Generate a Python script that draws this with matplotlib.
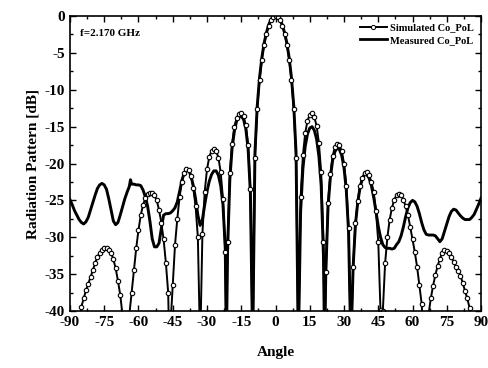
import matplotlib
matplotlib.use('Agg')
import matplotlib.pyplot as plt
from matplotlib.ticker import MultipleLocator

# simulated co-pol (angle in deg, level in dB)
sim_angle = [-90, -89, -88, -87, -86, -85, -84, -83, -82, -81, -80, -79, -78, -77, -76, -75,
             -74, -73, -72, -71, -70, -69, -68, -67, -66, -65, -64, -63, -62, -61, -60, -59,
             -58, -57, -56, -55, -54, -53, -52, -51, -50, -49, -48, -47, -46.5, -46, -45, -44,
             -43, -42, -41, -40, -39, -38, -37, -36, -35, -34, -33, -32, -31, -30, -29, -28,
             -27, -26, -25, -24, -23, -22, -21.5, -21, -20, -19, -18, -17, -16, -15, -14, -13,
             -12, -11, -10, -9, -8, -7, -6, -5, -4, -3, -2, -1, 0, 1, 2, 3, 4, 5, 6, 7, 8, 9,
             10, 11, 12, 13, 14, 15, 16, 17, 18, 19, 20, 21, 21.5, 22, 23, 24, 25, 26, 27, 28,
             29, 30, 31, 32, 33, 34, 35, 36, 37, 38, 39, 40, 41, 42, 43, 44, 45, 46, 46.5, 47,
             48, 49, 50, 51, 52, 53, 54, 55, 56, 57, 58, 59, 60, 61, 62, 63, 64, 65, 66, 67,
             68, 69, 70, 71, 72, 73, 74, 75, 76, 77, 78, 79, 80, 81, 82, 83, 84, 85, 86, 87,
             88, 89, 90]
sim_db = [-50, -50, -48, -46, -43, -39.4, -38.3, -37.2, -36.3, -35.4, -34.5, -33.5, -32.7, -32.1, -31.7, -31.5,
          -31.5, -31.7, -32.1, -33.0, -34.2, -35.9, -37.8, -40.5, -46, -46, -40.5, -37.5, -34.5, -31.5, -29.0, -27.0,
          -25.6, -24.7, -24.2, -24.0, -24.0, -24.3, -25.0, -26.3, -28.0, -30.3, -33.5, -37.5, -45, -42, -36.5, -31.0,
          -27.5, -24.5, -22.5, -21.3, -20.8, -20.9, -21.7, -23.3, -25.8, -30.0, -45, -29.5, -23.8, -20.8, -19.1, -18.3,
          -18.1, -18.3, -19.2, -21.2, -24.8, -32.0, -45, -30.6, -21.3, -17.3, -15.0, -13.8, -13.3, -13.2, -13.6, -14.8,
          -17.5, -23.5, -45, -19.2, -12.6, -8.7, -5.9, -3.9, -2.4, -1.3, -0.6, -0.15, 0, -0.15, -0.6, -1.3, -2.4, -3.9, -5.9, -8.7, -12.6, -19.2,
          -45, -24.6, -18.9, -15.9, -14.2, -13.4, -13.2, -13.7, -14.9, -17.2, -21.2, -30.6, -45, -34.7, -25.3, -21.4, -19.0, -17.8, -17.3, -17.5,
          -18.3, -20.0, -23.0, -28.7, -45, -34.0, -28.1, -25.1, -23.1, -21.9, -21.3, -21.2, -21.6, -22.5, -23.9, -26.5, -30.6, -39.9, -45, -40.0,
          -33.5, -30.0, -27.6, -26.0, -24.9, -24.3, -24.1, -24.3, -24.9, -25.8, -27.0, -28.6, -30.3, -32.0, -34.0, -36.5, -39.0, -45, -45, -40.5,
          -38.3, -36.6, -35.1, -33.9, -32.9, -32.1, -31.7, -31.8, -32.2, -32.7, -33.3, -34.0, -34.6, -35.2, -36.2, -37.3, -38.3, -39.6, -45, -48,
          -50, -50, -50]

# measured co-pol
meas_angle = [-90, -89, -88, -87, -86, -85, -84, -83, -82, -81, -80, -79, -78, -77, -76, -75,
              -74, -73, -72, -71, -70, -69, -68, -67, -66, -65, -64, -63.5, -63, -62, -61, -60,
              -59, -58, -57, -56, -55, -54, -53, -52, -51, -50, -49, -48, -47, -46, -45, -44,
              -43, -42, -41, -40, -39, -38, -37, -36, -35, -34, -33, -32, -31, -30, -29, -28,
              -27, -26, -25, -24, -23, -22, -21.5, -21, -20, -19, -18, -17, -16, -15, -14, -13,
              -12, -11, -10, -9, -8, -7, -6, -5, -4, -3, -2, -1, 0, 1, 2, 3, 4, 5, 6, 7, 8, 9,
              10, 11, 12, 13, 14, 15, 16, 17, 18, 19, 20, 21, 21.5, 22, 23, 24, 25, 26, 27, 28,
              29, 30, 31, 32, 33, 34, 35, 36, 37, 38, 39, 40, 41, 42, 43, 44, 45, 46, 47, 48,
              49, 50, 51, 52, 53, 54, 55, 56, 57, 58, 59, 60, 61, 62, 63, 64, 65, 66, 67, 68,
              69, 70, 71, 72, 73, 74, 75, 76, 77, 78, 79, 80, 81, 82, 83, 84, 85, 86, 87, 88,
              89, 90]
meas_db = [-24.9, -25.6, -26.4, -27.0, -27.6, -28.0, -28.2, -27.9, -27.3, -26.3, -25.3, -24.3, -23.4, -22.9, -22.7, -22.9,
           -23.5, -24.8, -26.3, -27.8, -28.3, -28.0, -27.0, -25.9, -24.8, -23.9, -23.1, -22.2, -22.8, -22.8, -22.9, -22.9,
           -23.0, -23.6, -24.5, -25.8, -27.8, -30.2, -31.3, -31.3, -30.8, -28.8, -27.0, -26.8, -26.8, -26.7, -26.4, -26.0,
           -25.2, -23.8, -22.3, -21.3, -20.8, -20.9, -21.7, -23.0, -24.8, -27.0, -28.4, -27.6, -25.6, -23.8, -22.4, -21.5,
           -21.0, -21.0, -21.6, -23.0, -25.6, -31.5, -45, -32.0, -22.2, -17.9, -15.6, -14.2, -13.7, -13.6, -14.0, -15.3,
           -18.0, -24.0, -45, -18.5, -12.2, -8.4, -5.7, -3.7, -2.3, -1.2, -0.5, -0.1, 0, -0.1, -0.5, -1.2, -2.3, -3.7, -5.7, -8.4, -12.2, -18.5,
           -45, -26.5, -20.7, -17.7, -16.0, -15.2, -15.0, -15.5, -16.7, -19.0, -23.0, -32.5, -45, -35.3, -25.9, -22.0, -19.6, -18.4, -17.9, -18.1,
           -18.9, -20.6, -23.6, -29.3, -45, -34.0, -28.3, -25.3, -23.3, -22.1, -21.5, -21.5, -22.0, -23.0, -24.6, -26.5, -28.5, -30.0, -31.0, -31.4,
           -31.5, -31.5, -31.6, -31.5, -31.0, -30.6, -29.8, -28.6, -27.2, -26.0, -25.3, -25.0, -25.2, -25.8, -26.8, -28.0, -29.0, -29.6, -29.7, -29.7,
           -29.7, -29.8, -30.2, -30.6, -30.2, -29.2, -28.2, -27.2, -26.5, -26.2, -26.3, -26.7, -27.1, -27.4, -27.6, -27.6, -27.6, -27.3, -26.9, -26.2,
           -25.5, -24.7]

x_ticks = [-90, -75, -60, -45, -30, -15, 0, 15, 30, 45, 60, 75, 90]
y_ticks = [0, -5, -10, -15, -20, -25, -30, -35, -40]

plt.rcParams['font.family'] = ['Liberation Serif', 'DejaVu Serif']
plt.rcParams['font.weight'] = 'bold'
plt.rcParams['axes.unicode_minus'] = False

fig = plt.figure(figsize=(4.88, 3.68), dpi=100)
ax = fig.add_axes([0.1434, 0.1549, 0.8423, 0.8016])

ax.plot(meas_angle, meas_db, color='black', lw=2.1, solid_joinstyle='round')
ax.plot(sim_angle, sim_db, color='black', lw=1.4, marker='o', markersize=3.2,
        markerfacecolor='white', markeredgecolor='black', markeredgewidth=0.8)

ax.set_xlim(-90, 90)
ax.set_ylim(-40, 0)
ax.set_xticks(x_ticks)
ax.set_yticks(y_ticks)
ax.xaxis.set_minor_locator(MultipleLocator(7.5))
ax.yaxis.set_minor_locator(MultipleLocator(2.5))
ax.tick_params(which='both', direction='in', top=True, right=True, width=1.0)
ax.tick_params(which='major', length=4, labelsize=11)
ax.tick_params(which='minor', length=2)
for s in ax.spines.values():
    s.set_linewidth(1.2)

ax.set_xlabel('Angle', fontsize=11, fontweight='bold', labelpad=12)
ax.set_ylabel('Radiation Pattern [dB]', fontsize=11, fontweight='bold', labelpad=4)

ax.text(0.025, 0.94, 'f=2.170 GHz', transform=ax.transAxes, fontsize=8,
        fontweight='bold', va='center', ha='left')

h_sim, = ax.plot([], [], color='black', lw=1.4, marker='o', markersize=3,
                 markerfacecolor='white', markeredgewidth=0.7)
h_meas, = ax.plot([], [], color='black', lw=2.0)
ax.legend([h_sim, h_meas], ['Simulated Co_PoL', 'Measured Co_PoL'], loc='upper right',
          frameon=False, fontsize=7.5, handlelength=2.6, handletextpad=0.3,
          borderaxespad=0.3, labelspacing=0.3)

fig.savefig('out.png', dpi=100, facecolor='white')
